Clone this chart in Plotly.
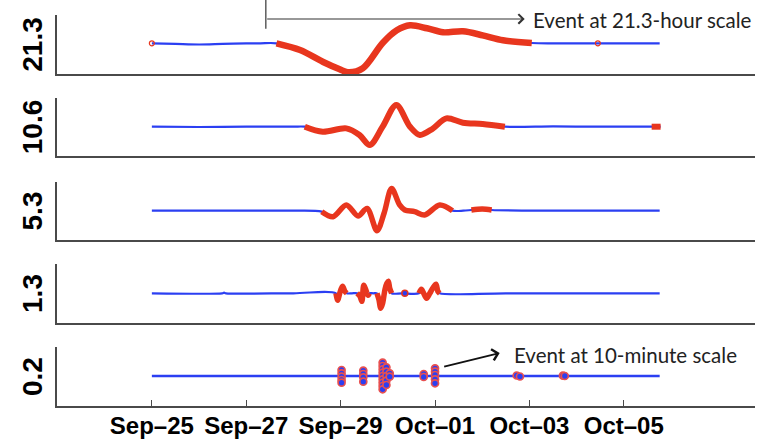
import pandas as pd
import plotly.graph_objects as go
from plotly.subplots import make_subplots

START = pd.Timestamp("2012-09-25")
SCALES = ["21.3", "10.6", "5.3", "1.3", "0.2"]
TICK_DAYS = [0, 2, 4, 6, 8, 10]
TICK_LABELS = ["Sep–25", "Sep–27", "Sep–29", "Oct–01", "Oct–03", "Oct–05"]
X_RANGE_DAYS = [-2.01, 12.78]

# ---- panel 1 : 21.3-hour scale (days after Sep-25, amplitude)
T1 = [0, 0.5, 1.0, 1.5, 2.0, 2.3, 2.64, 3.14, 3.62, 3.98, 4.15, 4.47, 4.89, 5.19,
      5.47, 5.83, 6.17, 6.59, 7.01, 7.44, 8.05, 8.5, 9.0, 9.45, 10.0, 10.76]
V1 = [0, -0.6, -1.2, -0.6, -0.1, 0, 0, -6.7, -18.4, -26, -29, -25, 0.3, 13,
      18, 15, 11, 12, 8, 3, 0.3, 0, 0, 0, 0, 0]
E1 = [(2.64, 8.05)]
M1_T = [0.0, 9.45]
M1_V = [0, 0]

# ---- panel 2 : 10.6-hour scale
T2 = [0, 1.0, 2.0, 3.0, 3.24, 3.62, 4.12, 4.4, 4.62, 4.89, 5.18, 5.47, 5.68,
      5.95, 6.24, 6.59, 7.01, 7.48, 8.5, 9.5, 10.4, 10.59, 10.78]
V2 = [0, -0.3, 0, 0, 0, -5, -1.7, -8.3, -18.3, 0, 21.7, 0, -8.3,
      -2, 8.3, 4, 2.7, 0, 0.3, 0, 0, 0, 0]
E2 = [(3.24, 7.48), (10.59, 10.78)]

# ---- panel 3 : 5.3-hour scale
T3 = [0, 1.5, 3.0, 3.6, 3.84, 4.12, 4.37, 4.56, 4.77, 4.92, 5.08, 5.25, 5.36,
      5.57, 5.78, 6.10, 6.37, 6.6, 6.77, 7.0, 7.2, 8.5, 10.76]
V3 = [0, 0, 0, -1, -6, 5.7, -5.3, 2.3, -20, -2.6, 22.3, 5.7, 0.7,
      -1, -4.3, 5.7, 0, 0, 0.7, 1.7, 0.7, 0, 0]
E3 = [(3.6, 6.37), (6.77, 7.2)]

# ---- panel 4 : 1.3-hour scale
T4 = [0, 1.49, 1.53, 1.57, 3.0, 3.90, 3.94, 3.98, 4.04, 4.09, 4.13, 4.24,
      4.35, 4.41, 4.45, 4.49, 4.53, 4.58, 4.61, 4.69,
      4.77, 4.81, 4.85, 4.89, 4.94, 4.98, 5.01, 5.04, 5.08, 5.3,
      5.66, 5.71, 5.76, 5.82, 5.89, 5.95, 6.02, 6.06, 6.10, 7.5, 10.76]
V4 = [0, 0, 0.6, 0, 0, 0, -7, 0, 7, 2, 0, 0,
      0, -3, -8, 8, 4, -2, 0, 0,
      0, -6, -15, -10, 4, 10, 12, 5, 0, 0,
      0, 4, 0, -5, 0, 5, 9, 2, 0, 0, 0]
E4 = [(3.90, 4.13), (4.35, 4.61), (4.77, 5.08), (5.66, 6.10)]
M4_T = [5.36]
M4_V = [0]

# ---- panel 5 : 10-minute scale
T5 = [0, 10.76]
V5 = [0, 0]
M5_T = [4.02] * 5 + [4.48] * 4 + [4.89] * 9 + [4.97] * 5 + [5.04] * 2 + \
       [5.76] * 2 + [6.0] * 5 + [7.73, 7.80, 8.71, 8.75]
M5_V = [6, 2.7, -0.7, -4, -6.7,
        5.3, 2, -1.3, -5.7,
        13.3, 10, 6.7, 3.3, 0, -3.3, -6.7, -10, -13.3,
        8.7, 4.3, 0, -4.7, -9,
        2.7, -0.7,
        2, -1,
        7.7, 4.3, 1, -3.3, -7.3,
        0.5, -0.5, 0.3, 0]

Y_RANGES = [[-30.7, 28.3], [-29.3, 28.7], [-29.3, 28.7], [-29.7, 29.3], [-30, 29]]
Y_DOMAINS = [[0.8491, 1.0], [0.6394, 0.7877], [0.4246, 0.5729], [0.2123, 0.3632], [0.0, 0.1509]]

BLUE = "#2b3ff2"
RED = "#e8361e"
AX = "#4a4a4a"


def dates(days):
    return [START + pd.Timedelta(days=d) for d in days]


def red_part(t, v, windows):
    return [vv if any(a <= tt <= b for a, b in windows) else None for tt, vv in zip(t, v)]


fig = make_subplots(rows=5, cols=1, shared_xaxes=True)

panels = [(T1, V1, E1, 6.5), (T2, V2, E2, 6), (T3, V3, E3, 5.5), (T4, V4, E4, 5.5), (T5, V5, [], 5)]
for i, (t, v, ev, rw) in enumerate(panels, start=1):
    fig.add_trace(go.Scatter(x=dates(t), y=v, mode="lines",
                             line=dict(color=BLUE, width=2.2 if i < 5 else 2.6,
                                       shape="spline" if i < 5 else "linear", smoothing=0.9),
                             hoverinfo="skip", showlegend=False), row=i, col=1)
    if ev:
        fig.add_trace(go.Scatter(x=dates(t), y=red_part(t, v, ev), mode="lines",
                                 line=dict(color=RED, width=rw, shape="spline", smoothing=0.9),
                                 connectgaps=False, hoverinfo="skip", showlegend=False),
                      row=i, col=1)

fig.add_trace(go.Scatter(x=dates(M1_T), y=M1_V, mode="markers",
                         marker=dict(symbol="circle-open", size=5, color=RED, line=dict(width=1.2)),
                         showlegend=False, hoverinfo="skip"), row=1, col=1)
fig.add_trace(go.Scatter(x=dates(M4_T), y=M4_V, mode="markers",
                         marker=dict(symbol="circle", size=6, color=BLUE, line=dict(width=1.5, color=RED)),
                         showlegend=False, hoverinfo="skip"), row=4, col=1)
fig.add_trace(go.Scatter(x=dates(M5_T), y=M5_V, mode="markers",
                         marker=dict(symbol="circle", size=7, color=BLUE,
                                     line=dict(width=1.7, color="#e85050")),
                         showlegend=False, hoverinfo="skip"), row=5, col=1)

x_range = dates(X_RANGE_DAYS)
for i in range(1, 6):
    fig.update_xaxes(range=x_range, showline=True, linecolor=AX, linewidth=2,
                     showgrid=False, zeroline=False, row=i, col=1)
    fig.update_yaxes(range=Y_RANGES[i - 1], domain=Y_DOMAINS[i - 1], showline=True,
                     linecolor=AX, linewidth=1.6, showgrid=False, zeroline=False,
                     showticklabels=False, ticks="",
                     title=dict(text=SCALES[i - 1], standoff=4,
                                font=dict(family="Liberation Sans", size=28, color="black",
                                          weight="bold")),
                     row=i, col=1)

fig.update_xaxes(ticks="inside", ticklen=6, tickcolor=AX, tickwidth=1,
                 tickvals=dates(TICK_DAYS), ticktext=TICK_LABELS, showticklabels=True,
                 ticklabelstandoff=-3,
                 tickfont=dict(family="Liberation Sans", size=24, color="black", weight="bold"),
                 row=5, col=1)

# annotation 1: bracket + arrow at top
fig.add_shape(type="line", xref="x", yref="paper",
              x0=dates([2.415])[0], x1=dates([2.415])[0], y0=1.0384, y1=0.965,
              line=dict(color="#444444", width=1.3))
fig.add_annotation(xref="x", yref="paper", x=dates([7.90])[0], y=0.9898,
                   ax=-259, ay=0, axref="pixel", ayref="pixel",
                   text="", showarrow=True, arrowhead=4, arrowsize=1.7, arrowwidth=1.1,
                   arrowcolor="#333333")
fig.add_annotation(xref="x", yref="paper", x=dates([8.03])[0], y=0.987,
                   xanchor="left", yanchor="middle", showarrow=False,
                   text="Event at 21.3-hour scale",
                   font=dict(family="Lato", size=20.5, color="#222222"))

# annotation 2: arrow in bottom panel
fig.add_annotation(xref="x5", yref="paper", x=dates([7.37])[0], y=0.1355,
                   ax=-57, ay=14, axref="pixel", ayref="pixel",
                   text="", showarrow=True, arrowhead=4, arrowsize=1.1, arrowwidth=2,
                   arrowcolor="#111111")
fig.add_annotation(xref="x5", yref="paper", x=dates([7.63])[0], y=0.1304,
                   xanchor="left", yanchor="middle", showarrow=False,
                   text="Event at 10-minute scale",
                   font=dict(family="Lato", size=20.5, color="#222222"))

fig.update_layout(width=759, height=447, margin=dict(l=57, r=4, t=15, b=41),
                  plot_bgcolor="white", paper_bgcolor="white", showlegend=False)

fig.write_html("out.html", config={"displayModeBar": False},
               post_script="document.body.style.margin='0';")
